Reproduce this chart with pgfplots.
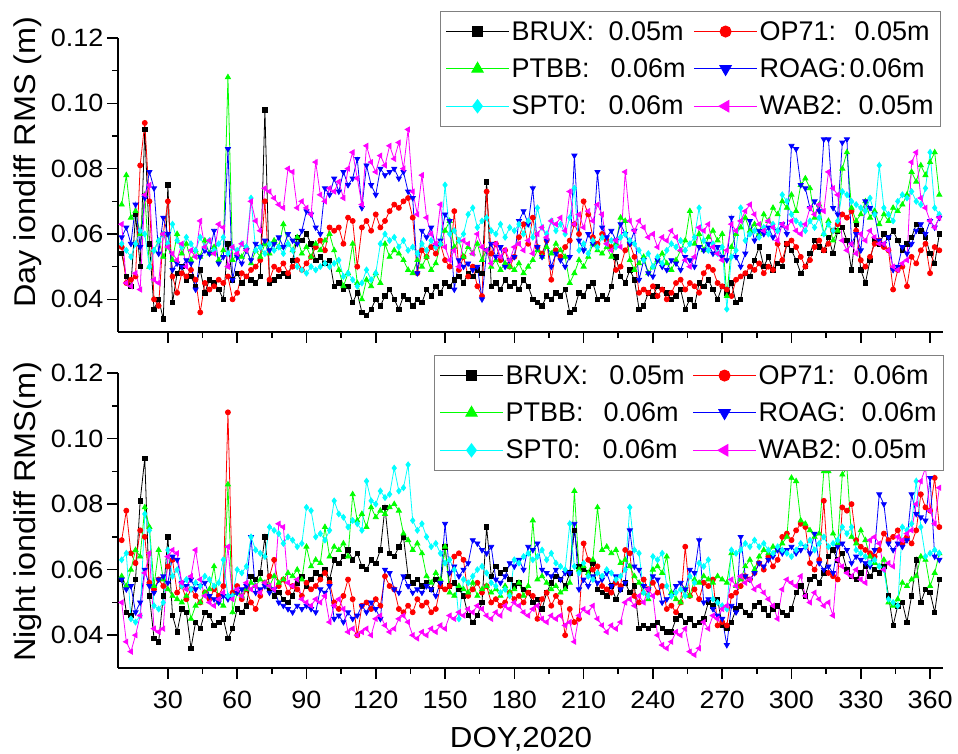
\documentclass[border=0pt]{standalone}
\usepackage{fontspec}
\setmainfont{Liberation Sans}[FakeStretch=1.08]
\newfontfamily\legfam{Liberation Sans}
\usepackage{pgfplots}
\usepackage{pgfplotstable}
\pgfplotsset{compat=1.18}

% columns: DOY, BRUX, OP71, PTBB, ROAG, SPT0, WAB2  (day, m)
\pgfplotstableread{
d b r g u c m
10 0.054 0.056 0.069 0.059 0.057 0.063
12 0.047 0.045 0.078 0.062 0.055 0.045
14 0.044 0.046 0.065 0.057 0.053 0.044
16 0.066 0.047 0.067 0.069 0.057 0.048
18 0.050 0.081 0.060 0.056 0.061 0.043
20 0.092 0.094 0.072 0.071 0.060 0.072
22 0.057 0.070 0.050 0.079 0.050 0.075
24 0.037 0.040 0.055 0.074 0.055 0.046
26 0.040 0.038 0.058 0.054 0.058 0.045
28 0.034 0.060 0.053 0.065 0.060 0.060
30 0.075 0.070 0.056 0.060 0.057 0.056
32 0.039 0.047 0.052 0.049 0.063 0.054
34 0.048 0.042 0.060 0.051 0.058 0.052
36 0.050 0.048 0.054 0.050 0.056 0.057
38 0.046 0.047 0.057 0.052 0.059 0.050
40 0.047 0.049 0.052 0.051 0.057 0.055
42 0.044 0.046 0.055 0.043 0.055 0.053
44 0.049 0.036 0.053 0.053 0.059 0.064
46 0.042 0.045 0.058 0.055 0.056 0.056
48 0.046 0.043 0.054 0.054 0.058 0.058
50 0.045 0.044 0.056 0.061 0.055 0.054
52 0.043 0.046 0.052 0.051 0.057 0.063
54 0.040 0.045 0.055 0.053 0.059 0.062
56 0.057 0.047 0.108 0.086 0.054 0.050
58 0.046 0.040 0.052 0.046 0.056 0.056
60 0.048 0.042 0.054 0.053 0.055 0.054
62 0.045 0.048 0.053 0.051 0.057 0.057
64 0.047 0.047 0.056 0.055 0.056 0.055
66 0.046 0.049 0.051 0.052 0.071 0.070
68 0.045 0.050 0.055 0.057 0.055 0.064
70 0.047 0.052 0.053 0.056 0.056 0.061
72 0.098 0.070 0.057 0.058 0.054 0.074
74 0.045 0.046 0.054 0.055 0.057 0.073
76 0.046 0.050 0.058 0.057 0.055 0.071
78 0.047 0.049 0.056 0.059 0.056 0.069
80 0.048 0.051 0.063 0.056 0.054 0.068
82 0.047 0.048 0.057 0.060 0.057 0.080
84 0.052 0.050 0.055 0.058 0.055 0.079
86 0.059 0.052 0.059 0.057 0.050 0.068
88 0.058 0.049 0.054 0.061 0.049 0.070
90 0.060 0.051 0.056 0.067 0.048 0.068
92 0.057 0.053 0.053 0.066 0.050 0.066
94 0.052 0.056 0.057 0.062 0.049 0.082
96 0.053 0.058 0.055 0.060 0.050 0.072
98 0.051 0.055 0.058 0.074 0.051 0.070
100 0.052 0.062 0.060 0.072 0.050 0.074
102 0.044 0.061 0.055 0.077 0.051 0.073
104 0.045 0.062 0.049 0.073 0.052 0.076
106 0.043 0.057 0.044 0.079 0.047 0.071
108 0.044 0.065 0.048 0.075 0.048 0.080
110 0.039 0.064 0.057 0.077 0.046 0.085
112 0.042 0.050 0.045 0.083 0.044 0.077
114 0.036 0.062 0.040 0.068 0.045 0.069
116 0.035 0.064 0.046 0.081 0.049 0.087
118 0.037 0.061 0.044 0.075 0.046 0.082
120 0.040 0.066 0.048 0.072 0.048 0.079
122 0.038 0.062 0.045 0.080 0.057 0.084
124 0.041 0.064 0.057 0.078 0.060 0.081
126 0.043 0.067 0.053 0.079 0.058 0.087
128 0.040 0.069 0.055 0.080 0.059 0.083
130 0.037 0.068 0.054 0.077 0.056 0.088
132 0.041 0.070 0.052 0.079 0.058 0.080
134 0.040 0.071 0.049 0.073 0.055 0.092
136 0.038 0.065 0.048 0.071 0.056 0.073
138 0.040 0.048 0.052 0.048 0.054 0.066
140 0.039 0.055 0.050 0.061 0.057 0.078
142 0.043 0.053 0.053 0.059 0.055 0.065
144 0.041 0.056 0.049 0.062 0.058 0.060
146 0.044 0.054 0.051 0.056 0.056 0.057
148 0.042 0.057 0.057 0.058 0.057 0.069
150 0.045 0.052 0.061 0.066 0.075 0.056
152 0.044 0.050 0.064 0.064 0.060 0.052
154 0.046 0.067 0.056 0.043 0.061 0.055
156 0.047 0.049 0.058 0.052 0.058 0.050
158 0.045 0.053 0.053 0.050 0.060 0.058
160 0.048 0.047 0.056 0.051 0.066 0.057
162 0.047 0.050 0.054 0.049 0.068 0.054
164 0.049 0.044 0.057 0.050 0.062 0.060
166 0.048 0.041 0.052 0.040 0.064 0.056
168 0.076 0.073 0.055 0.055 0.065 0.055
170 0.044 0.054 0.050 0.057 0.061 0.051
172 0.045 0.057 0.052 0.053 0.060 0.057
174 0.043 0.052 0.049 0.056 0.063 0.053
176 0.046 0.055 0.051 0.050 0.059 0.055
178 0.044 0.050 0.050 0.052 0.062 0.052
180 0.045 0.053 0.049 0.053 0.061 0.056
182 0.043 0.059 0.051 0.064 0.063 0.057
184 0.046 0.063 0.048 0.067 0.060 0.055
186 0.044 0.057 0.050 0.063 0.064 0.058
188 0.040 0.065 0.052 0.074 0.059 0.054
190 0.039 0.056 0.055 0.056 0.068 0.060
192 0.038 0.054 0.053 0.053 0.062 0.062
194 0.041 0.058 0.056 0.058 0.060 0.059
196 0.040 0.046 0.054 0.050 0.064 0.064
198 0.042 0.055 0.057 0.054 0.061 0.063
200 0.041 0.053 0.055 0.052 0.063 0.065
202 0.043 0.056 0.053 0.050 0.060 0.061
204 0.036 0.058 0.045 0.053 0.065 0.073
206 0.037 0.063 0.048 0.084 0.074 0.063
208 0.042 0.060 0.052 0.058 0.055 0.066
210 0.041 0.070 0.050 0.055 0.057 0.062
212 0.044 0.066 0.053 0.060 0.054 0.067
214 0.045 0.059 0.057 0.057 0.058 0.064
216 0.040 0.057 0.055 0.079 0.056 0.069
218 0.041 0.060 0.054 0.062 0.059 0.066
220 0.040 0.058 0.056 0.059 0.057 0.057
222 0.044 0.056 0.053 0.061 0.058 0.055
224 0.053 0.049 0.057 0.058 0.056 0.058
226 0.047 0.050 0.065 0.063 0.059 0.056
228 0.045 0.055 0.064 0.060 0.060 0.079
230 0.049 0.057 0.052 0.057 0.058 0.064
232 0.046 0.053 0.049 0.061 0.057 0.061
234 0.037 0.042 0.051 0.046 0.055 0.064
236 0.038 0.043 0.053 0.052 0.052 0.062
238 0.042 0.042 0.048 0.048 0.054 0.059
240 0.041 0.044 0.050 0.047 0.050 0.060
242 0.044 0.041 0.052 0.052 0.053 0.056
244 0.043 0.043 0.054 0.050 0.051 0.059
246 0.042 0.040 0.051 0.049 0.055 0.058
248 0.040 0.042 0.049 0.052 0.057 0.061
250 0.041 0.045 0.052 0.051 0.056 0.059
252 0.043 0.046 0.055 0.049 0.058 0.055
254 0.037 0.043 0.058 0.053 0.055 0.052
256 0.040 0.045 0.067 0.052 0.057 0.050
258 0.038 0.044 0.057 0.050 0.059 0.053
260 0.045 0.042 0.060 0.056 0.068 0.062
262 0.044 0.048 0.055 0.055 0.058 0.061
264 0.046 0.050 0.059 0.057 0.055 0.063
266 0.043 0.049 0.061 0.054 0.057 0.056
268 0.040 0.045 0.058 0.056 0.054 0.054
270 0.044 0.044 0.060 0.053 0.056 0.052
272 0.042 0.043 0.041 0.052 0.037 0.055
274 0.045 0.041 0.056 0.065 0.053 0.063
276 0.039 0.046 0.060 0.053 0.055 0.061
278 0.040 0.047 0.062 0.050 0.068 0.064
280 0.048 0.048 0.065 0.054 0.058 0.067
282 0.047 0.050 0.061 0.064 0.060 0.069
284 0.052 0.049 0.063 0.058 0.061 0.066
286 0.056 0.051 0.060 0.061 0.059 0.063
288 0.050 0.048 0.066 0.060 0.062 0.061
290 0.053 0.050 0.064 0.062 0.060 0.064
292 0.049 0.049 0.068 0.059 0.063 0.062
294 0.051 0.057 0.066 0.061 0.061 0.058
296 0.050 0.052 0.070 0.063 0.072 0.063
298 0.057 0.057 0.068 0.060 0.070 0.062
300 0.055 0.058 0.072 0.087 0.066 0.064
302 0.052 0.056 0.067 0.086 0.064 0.061
304 0.048 0.053 0.075 0.075 0.063 0.060
306 0.050 0.050 0.077 0.074 0.061 0.063
308 0.054 0.052 0.074 0.068 0.064 0.068
310 0.058 0.056 0.065 0.070 0.062 0.066
312 0.056 0.058 0.069 0.067 0.065 0.069
314 0.055 0.055 0.060 0.089 0.060 0.067
316 0.059 0.057 0.064 0.089 0.063 0.079
318 0.054 0.061 0.058 0.068 0.061 0.074
320 0.061 0.063 0.061 0.066 0.064 0.072
322 0.062 0.066 0.080 0.088 0.073 0.058
324 0.058 0.065 0.085 0.089 0.072 0.055
326 0.049 0.067 0.068 0.057 0.070 0.057
328 0.063 0.061 0.064 0.060 0.069 0.054
330 0.049 0.052 0.066 0.055 0.068 0.060
332 0.045 0.050 0.070 0.070 0.067 0.058
334 0.052 0.053 0.065 0.068 0.071 0.061
336 0.058 0.057 0.067 0.066 0.066 0.059
338 0.057 0.058 0.063 0.058 0.081 0.057
340 0.060 0.056 0.066 0.057 0.068 0.057
342 0.059 0.055 0.064 0.059 0.066 0.055
344 0.061 0.043 0.068 0.049 0.064 0.050
346 0.058 0.049 0.067 0.050 0.070 0.049
348 0.055 0.050 0.069 0.056 0.072 0.051
350 0.057 0.044 0.072 0.054 0.071 0.052
352 0.059 0.053 0.079 0.057 0.073 0.082
354 0.063 0.051 0.076 0.061 0.070 0.085
356 0.061 0.055 0.081 0.063 0.069 0.071
358 0.059 0.057 0.078 0.060 0.074 0.068
360 0.054 0.048 0.082 0.064 0.085 0.064
362 0.051 0.056 0.085 0.062 0.068 0.062
364 0.060 0.055 0.072 0.065 0.066 0.065
}\daytab

% columns: DOY, BRUX, OP71, PTBB, ROAG, SPT0, WAB2  (night, m)
\pgfplotstableread{
d b r g u c m
10 0.057 0.069 0.058 0.057 0.063 0.050
12 0.047 0.078 0.055 0.054 0.065 0.038
14 0.046 0.065 0.060 0.055 0.045 0.035
16 0.057 0.062 0.066 0.047 0.044 0.040
18 0.081 0.072 0.064 0.050 0.046 0.046
20 0.094 0.070 0.079 0.060 0.077 0.059
22 0.052 0.056 0.073 0.055 0.072 0.065
24 0.039 0.054 0.055 0.053 0.049 0.042
26 0.038 0.057 0.066 0.057 0.048 0.041
28 0.052 0.055 0.057 0.058 0.050 0.042
30 0.070 0.061 0.054 0.056 0.066 0.064
32 0.046 0.063 0.052 0.064 0.058 0.066
34 0.041 0.053 0.051 0.063 0.060 0.065
36 0.048 0.055 0.050 0.056 0.055 0.056
38 0.047 0.051 0.052 0.055 0.057 0.054
40 0.036 0.054 0.045 0.057 0.054 0.058
42 0.044 0.052 0.049 0.054 0.056 0.066
44 0.042 0.050 0.050 0.055 0.055 0.057
46 0.047 0.053 0.053 0.056 0.058 0.052
48 0.046 0.051 0.054 0.052 0.057 0.050
50 0.043 0.054 0.061 0.051 0.055 0.049
52 0.044 0.052 0.050 0.050 0.056 0.051
54 0.045 0.055 0.049 0.052 0.063 0.053
56 0.039 0.108 0.086 0.051 0.052 0.067
58 0.042 0.053 0.047 0.052 0.052 0.051
60 0.048 0.055 0.053 0.053 0.060 0.054
62 0.047 0.051 0.052 0.054 0.059 0.052
64 0.049 0.054 0.054 0.055 0.061 0.056
66 0.058 0.050 0.056 0.070 0.070 0.054
68 0.057 0.048 0.055 0.053 0.066 0.055
70 0.059 0.052 0.057 0.054 0.065 0.053
72 0.070 0.056 0.056 0.055 0.064 0.056
74 0.054 0.058 0.055 0.053 0.073 0.055
76 0.052 0.063 0.058 0.054 0.072 0.054
78 0.053 0.055 0.056 0.050 0.071 0.074
80 0.051 0.057 0.057 0.049 0.068 0.073
82 0.050 0.053 0.059 0.048 0.070 0.056
84 0.052 0.055 0.058 0.047 0.069 0.055
86 0.056 0.054 0.060 0.049 0.067 0.057
88 0.058 0.052 0.057 0.048 0.068 0.051
90 0.055 0.056 0.067 0.049 0.079 0.050
92 0.057 0.054 0.061 0.048 0.078 0.049
94 0.059 0.055 0.063 0.047 0.070 0.051
96 0.058 0.057 0.062 0.054 0.071 0.050
98 0.060 0.059 0.073 0.053 0.069 0.052
100 0.057 0.056 0.064 0.055 0.072 0.044
102 0.063 0.050 0.067 0.045 0.081 0.049
104 0.062 0.048 0.066 0.046 0.077 0.051
106 0.064 0.052 0.068 0.044 0.076 0.048
108 0.066 0.057 0.064 0.047 0.073 0.041
110 0.063 0.051 0.083 0.045 0.075 0.042
112 0.065 0.040 0.075 0.046 0.074 0.040
114 0.061 0.049 0.077 0.049 0.072 0.041
116 0.060 0.050 0.073 0.047 0.087 0.042
118 0.063 0.048 0.079 0.050 0.081 0.040
120 0.062 0.051 0.076 0.048 0.080 0.045
122 0.066 0.049 0.078 0.045 0.084 0.046
124 0.079 0.058 0.077 0.060 0.082 0.043
126 0.065 0.055 0.079 0.059 0.083 0.041
128 0.064 0.054 0.080 0.054 0.091 0.042
130 0.067 0.048 0.078 0.053 0.084 0.045
132 0.070 0.047 0.071 0.058 0.085 0.046
134 0.058 0.049 0.069 0.055 0.092 0.044
136 0.056 0.047 0.066 0.053 0.075 0.040
138 0.057 0.051 0.068 0.054 0.072 0.039
140 0.055 0.049 0.065 0.053 0.074 0.041
142 0.056 0.050 0.058 0.055 0.070 0.040
144 0.054 0.047 0.056 0.054 0.067 0.042
146 0.057 0.048 0.059 0.052 0.068 0.041
148 0.055 0.055 0.057 0.056 0.065 0.043
150 0.067 0.054 0.067 0.074 0.062 0.042
152 0.055 0.055 0.053 0.059 0.063 0.046
154 0.056 0.064 0.052 0.061 0.060 0.045
156 0.054 0.065 0.055 0.058 0.045 0.047
158 0.052 0.063 0.054 0.060 0.057 0.046
160 0.046 0.052 0.053 0.062 0.056 0.048
162 0.044 0.054 0.056 0.069 0.058 0.047
164 0.046 0.056 0.052 0.068 0.060 0.049
166 0.050 0.053 0.054 0.066 0.061 0.048
168 0.073 0.055 0.055 0.065 0.059 0.046
170 0.058 0.050 0.053 0.067 0.056 0.045
172 0.061 0.051 0.054 0.057 0.055 0.047
174 0.059 0.049 0.052 0.056 0.053 0.046
176 0.060 0.050 0.055 0.058 0.054 0.049
178 0.057 0.053 0.053 0.062 0.052 0.048
180 0.055 0.051 0.054 0.061 0.063 0.050
182 0.056 0.052 0.056 0.063 0.062 0.049
184 0.054 0.050 0.052 0.060 0.064 0.047
186 0.053 0.053 0.055 0.067 0.065 0.046
188 0.050 0.052 0.075 0.066 0.063 0.048
190 0.051 0.045 0.057 0.068 0.064 0.049
192 0.048 0.051 0.058 0.060 0.066 0.045
194 0.053 0.053 0.056 0.059 0.063 0.044
196 0.056 0.049 0.054 0.058 0.065 0.046
198 0.058 0.052 0.055 0.060 0.062 0.045
200 0.057 0.050 0.053 0.057 0.061 0.046
202 0.055 0.040 0.054 0.059 0.060 0.043
204 0.059 0.048 0.056 0.059 0.074 0.044
206 0.072 0.044 0.084 0.074 0.061 0.038
208 0.061 0.045 0.060 0.054 0.059 0.046
210 0.060 0.068 0.061 0.057 0.062 0.048
212 0.059 0.063 0.059 0.055 0.058 0.047
214 0.062 0.060 0.063 0.058 0.057 0.049
216 0.054 0.061 0.079 0.056 0.059 0.045
218 0.053 0.055 0.066 0.057 0.058 0.043
220 0.052 0.054 0.067 0.059 0.060 0.041
222 0.055 0.053 0.065 0.055 0.059 0.043
224 0.051 0.056 0.066 0.058 0.057 0.042
226 0.054 0.055 0.062 0.054 0.058 0.044
228 0.056 0.066 0.063 0.056 0.060 0.050
230 0.053 0.065 0.061 0.072 0.079 0.051
232 0.055 0.052 0.058 0.061 0.066 0.049
234 0.042 0.050 0.056 0.060 0.065 0.052
236 0.043 0.057 0.053 0.055 0.053 0.050
238 0.042 0.054 0.051 0.054 0.052 0.054
240 0.043 0.056 0.060 0.058 0.064 0.052
242 0.044 0.053 0.061 0.057 0.063 0.040
244 0.042 0.055 0.059 0.050 0.065 0.037
246 0.041 0.048 0.064 0.051 0.055 0.036
248 0.041 0.049 0.053 0.052 0.052 0.038
250 0.045 0.047 0.051 0.055 0.053 0.041
252 0.046 0.050 0.050 0.056 0.054 0.040
254 0.044 0.067 0.054 0.054 0.052 0.042
256 0.045 0.052 0.052 0.060 0.058 0.035
258 0.043 0.054 0.057 0.059 0.056 0.034
260 0.044 0.051 0.056 0.069 0.062 0.036
262 0.045 0.056 0.058 0.050 0.061 0.044
264 0.050 0.055 0.057 0.051 0.063 0.042
266 0.049 0.057 0.056 0.048 0.051 0.046
268 0.051 0.043 0.058 0.046 0.050 0.045
270 0.043 0.044 0.057 0.045 0.049 0.048
272 0.042 0.043 0.056 0.037 0.048 0.049
274 0.044 0.052 0.065 0.049 0.066 0.057
276 0.048 0.053 0.055 0.047 0.065 0.055
278 0.049 0.055 0.057 0.070 0.066 0.058
280 0.047 0.058 0.061 0.058 0.068 0.056
282 0.046 0.057 0.063 0.057 0.067 0.057
284 0.049 0.059 0.060 0.059 0.069 0.054
286 0.050 0.062 0.064 0.062 0.067 0.055
288 0.048 0.060 0.066 0.061 0.068 0.053
290 0.046 0.064 0.065 0.063 0.066 0.051
292 0.048 0.061 0.067 0.064 0.065 0.049
294 0.049 0.063 0.066 0.066 0.067 0.045
296 0.047 0.070 0.068 0.065 0.066 0.054
298 0.046 0.071 0.070 0.066 0.065 0.057
300 0.048 0.069 0.088 0.067 0.064 0.056
302 0.053 0.072 0.087 0.065 0.066 0.055
304 0.055 0.074 0.075 0.066 0.068 0.058
306 0.052 0.073 0.074 0.067 0.067 0.052
308 0.057 0.062 0.072 0.065 0.069 0.050
310 0.058 0.060 0.070 0.071 0.066 0.053
312 0.056 0.063 0.071 0.062 0.068 0.051
314 0.059 0.081 0.090 0.060 0.070 0.049
316 0.064 0.059 0.090 0.061 0.067 0.050
318 0.066 0.058 0.071 0.059 0.068 0.046
320 0.063 0.057 0.068 0.067 0.069 0.063
322 0.065 0.079 0.089 0.068 0.073 0.061
324 0.060 0.078 0.091 0.066 0.071 0.059
326 0.058 0.080 0.070 0.062 0.073 0.058
328 0.057 0.069 0.068 0.064 0.066 0.060
330 0.059 0.067 0.072 0.063 0.065 0.057
332 0.061 0.066 0.069 0.062 0.064 0.056
334 0.058 0.065 0.064 0.061 0.062 0.069
336 0.060 0.064 0.062 0.066 0.063 0.070
338 0.059 0.066 0.061 0.083 0.061 0.068
340 0.061 0.071 0.063 0.080 0.060 0.060
342 0.052 0.069 0.050 0.068 0.051 0.062
344 0.043 0.070 0.049 0.066 0.050 0.061
346 0.049 0.072 0.051 0.068 0.049 0.070
348 0.050 0.068 0.056 0.067 0.073 0.069
350 0.044 0.070 0.055 0.069 0.072 0.071
352 0.052 0.068 0.057 0.083 0.074 0.072
354 0.063 0.072 0.058 0.077 0.087 0.080
356 0.050 0.083 0.064 0.076 0.073 0.087
358 0.054 0.079 0.063 0.075 0.064 0.091
360 0.053 0.078 0.055 0.088 0.065 0.078
362 0.047 0.088 0.059 0.064 0.066 0.074
364 0.057 0.073 0.065 0.063 0.065 0.085
}\nighttab

\definecolor{cBRUX}{RGB}{0,0,0}
\definecolor{cOP}{RGB}{255,0,0}
\definecolor{cPTBB}{RGB}{0,255,0}
\definecolor{cROAG}{RGB}{0,0,255}
\definecolor{cSPT}{RGB}{0,255,255}
\definecolor{cWAB}{RGB}{255,0,255}

\newcommand{\legfont}{\legfam\fontsize{27}{30}\selectfont}
\newcommand{\legtxt}[3]{\legfont\makebox[#1][l]{#2}#3}

\pgfplotsset{
  rmspanel/.style={
    scale only axis, width=825pt,
    xmin=8.4, xmax=365.6, ymin=0.03, ymax=0.12,
    axis x line*=bottom, axis y line*=left,
    axis line style={line width=1.6pt, -},
    tick align=outside,
    major tick length=11pt, minor tick length=6pt,
    every tick/.style={black, line width=1.6pt},
    xtick={30,60,...,360}, minor x tick num=1,
    ytick={0.04,0.06,0.08,0.10,0.12}, minor y tick num=1,
    tick label style={font=\fontsize{25}{28}\selectfont},
    xticklabel style={yshift=-9pt},
    /pgf/number format/assume math mode=true,
    yticklabel style={/pgf/number format/.cd, fixed, fixed zerofill, precision=2},
    ylabel style={font=\fontsize{30}{34}\selectfont, anchor=center},
    legend columns=2,
    legend cell align=left,
    legend style={draw=gray, line width=0.8pt, fill=white,
      font=\legfont, anchor=north east,
      row sep=13pt, inner xsep=5pt, inner ysep=8pt,
      /tikz/every even column/.append style={column sep=6pt}},
    legend image code/.code={\draw[#1, mark repeat=2, mark phase=2]
      plot coordinates {(0pt,0pt) (31.5pt,0pt) (63pt,0pt)};},
    every axis plot/.append style={line width=0.8pt},
  },
  pB/.style={cBRUX, mark=square*, mark size=2.2pt},
  pR/.style={cOP, mark=*, mark size=2.5pt},
  pG/.style={cPTBB, mark=triangle*, mark size=2.9pt},
  pU/.style={cROAG, mark=triangle*, mark size=2.9pt, mark options={rotate=180}},
  pC/.style={cSPT, mark=diamond*, mark size=2.9pt},
  pM/.style={cWAB, mark=triangle*, mark size=2.9pt, mark options={rotate=90}},
}

\begin{document}
\begin{tikzpicture}
\useasboundingbox (0,0) rectangle (958pt,754pt);

% ---------- Day panel ----------
\begin{axis}[rmspanel, at={(118pt,422pt)}, anchor=south west, height=294pt,
  xticklabels={},
  ylabel={Day iondiff RMS (m)},
  ylabel style={at={(axis description cs:-0.110,0.578)}},
  legend style={at={(axis description cs:0.9976,1.092)}},
]
\addlegendimage{cBRUX, line width=1pt, mark=square*, mark size=5.2pt}
\addlegendentry{\legtxt{97pt}{BRUX:}{0.05m}}
\addlegendimage{cOP, line width=1pt, mark=*, mark size=5.5pt}
\addlegendentry{\legtxt{95pt}{OP71:}{0.05m}}
\addlegendimage{cPTBB, line width=1pt, mark=triangle*, mark size=6.5pt}
\addlegendentry{\legtxt{99pt}{PTBB:}{0.06m}}
\addlegendimage{cROAG, line width=1pt, mark=triangle*, mark size=6.5pt, mark options={rotate=180}}
\addlegendentry{\legtxt{90pt}{ROAG:}{0.06m}}
\addlegendimage{cSPT, line width=1pt, mark=diamond*, mark size=6.5pt}
\addlegendentry{\legtxt{97pt}{SPT0:}{0.06m}}
\addlegendimage{cWAB, line width=1pt, mark=triangle*, mark size=6.5pt, mark options={rotate=90}}
\addlegendentry{\legtxt{99pt}{WAB2:}{0.05m}}
\addplot[pB, forget plot] table[x=d, y=b] {\daytab};
\addplot[pR, forget plot] table[x=d, y=r] {\daytab};
\addplot[pG, forget plot] table[x=d, y=g] {\daytab};
\addplot[pU, forget plot] table[x=d, y=u] {\daytab};
\addplot[pC, forget plot] table[x=d, y=c] {\daytab};
\addplot[pM, forget plot] table[x=d, y=m] {\daytab};
\end{axis}

% ---------- Night panel ----------
\begin{axis}[rmspanel, at={(118pt,86pt)}, anchor=south west, height=295pt,
  ylabel={Night iondiff RMS(m)},
  ylabel style={at={(axis description cs:-0.110,0.529)}},
  xlabel={DOY,2020},
  xlabel style={font=\fontsize{29}{32}\selectfont, at={(axis description cs:0.4885,-0.1995)}, anchor=north, inner sep=0pt},
  legend style={at={(axis description cs:1.0012,1.061)}},
]
\addlegendimage{cBRUX, line width=1pt, mark=square*, mark size=5.2pt}
\addlegendentry{\legtxt{104pt}{BRUX:}{0.05m}}
\addlegendimage{cOP, line width=1pt, mark=*, mark size=5.5pt}
\addlegendentry{\legtxt{95pt}{OP71:}{0.06m}}
\addlegendimage{cPTBB, line width=1pt, mark=triangle*, mark size=6.5pt}
\addlegendentry{\legtxt{98pt}{PTBB:}{0.06m}}
\addlegendimage{cROAG, line width=1pt, mark=triangle*, mark size=6.5pt, mark options={rotate=180}}
\addlegendentry{\legtxt{103pt}{ROAG:}{0.06m}}
\addlegendimage{cSPT, line width=1pt, mark=diamond*, mark size=6.5pt}
\addlegendentry{\legtxt{97pt}{SPT0:}{0.06m}}
\addlegendimage{cWAB, line width=1pt, mark=triangle*, mark size=6.5pt, mark options={rotate=90}}
\addlegendentry{\legtxt{93pt}{WAB2:}{0.05m}}
\addplot[pB, forget plot] table[x=d, y=b] {\nighttab};
\addplot[pR, forget plot] table[x=d, y=r] {\nighttab};
\addplot[pG, forget plot] table[x=d, y=g] {\nighttab};
\addplot[pU, forget plot] table[x=d, y=u] {\nighttab};
\addplot[pC, forget plot] table[x=d, y=c] {\nighttab};
\addplot[pM, forget plot] table[x=d, y=m] {\nighttab};
\end{axis}
\end{tikzpicture}
\end{document}
